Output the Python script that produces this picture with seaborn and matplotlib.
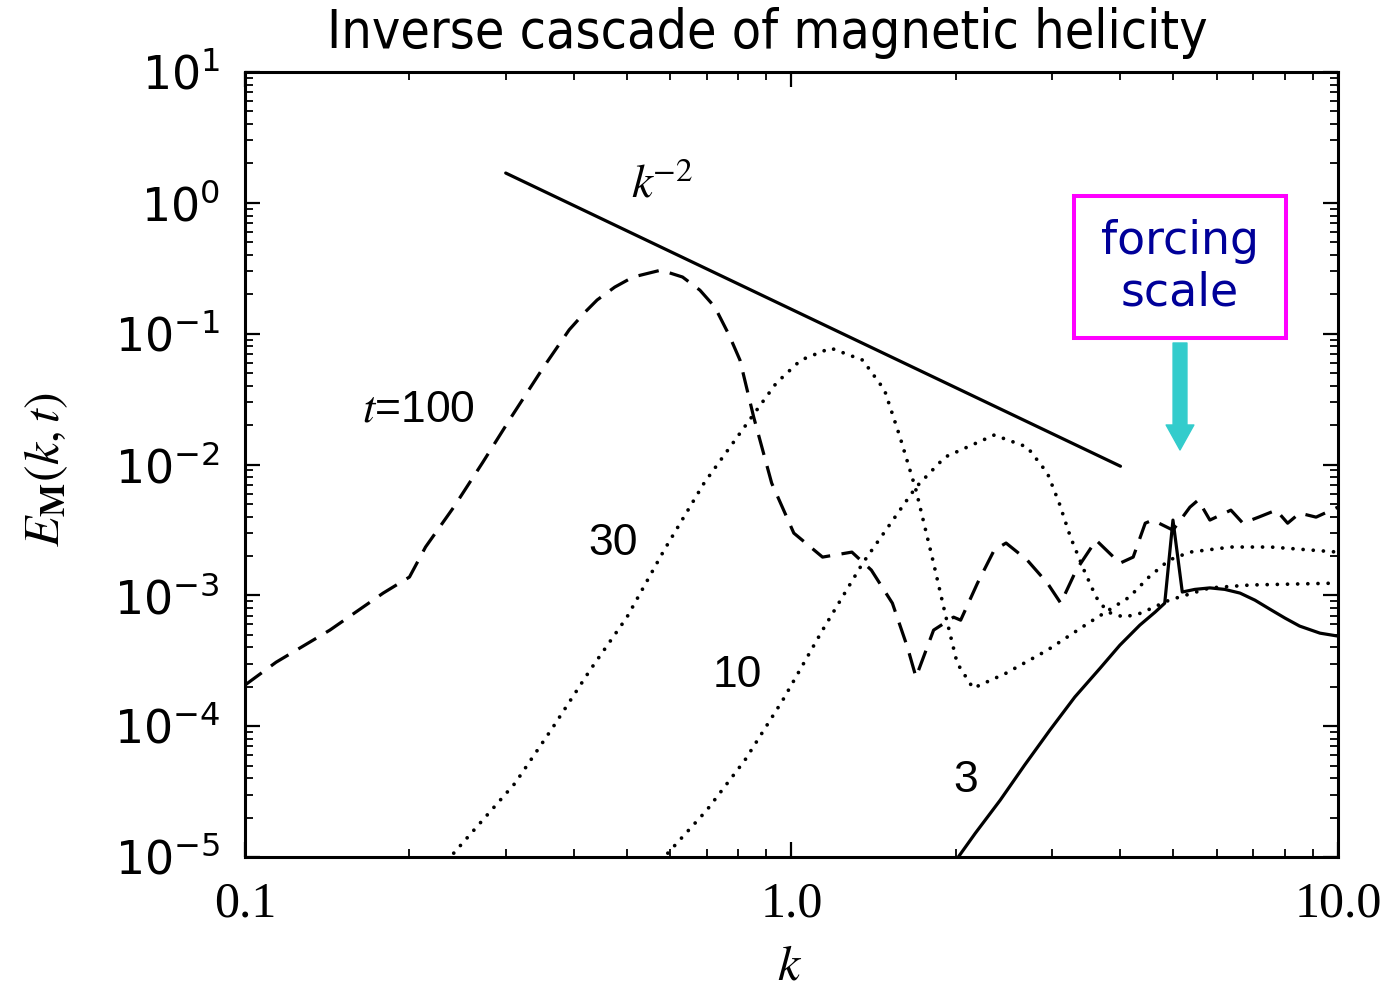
import numpy as np
import pandas as pd
import matplotlib
matplotlib.use("Agg")
import matplotlib.pyplot as plt
import seaborn as sns
from matplotlib.patches import Rectangle, FancyArrowPatch
from matplotlib.ticker import LogLocator, FixedLocator, FixedFormatter, NullFormatter

# ---------------- data ----------------
k_t100 = [0.100, 0.114, 0.143, 0.179, 0.200, 0.214, 0.241, 0.272, 0.307, 0.352,
          0.392, 0.419, 0.441, 0.475, 0.513, 0.577, 0.632, 0.680, 0.724, 0.769,
          0.805, 0.853, 0.920, 1.01,
          1.14, 1.29, 1.40, 1.53, 1.63, 1.69, 1.82, 1.98, 2.04, 2.19,
          2.35, 2.47, 2.70, 2.94, 3.11, 3.32, 3.61, 3.99, 4.22, 4.44,
          4.58, 4.99, 5.36, 5.55, 5.83, 6.37, 6.70, 7.16, 7.71, 8.09,
          8.51, 9.12, 10.0]
E_t100 = [2.06e-4, 3.08e-4, 5.42e-4, 1.04e-3, 1.38e-3, 2.34e-3, 4.72e-3, 1.03e-2, 2.30e-2, 5.56e-2,
          0.107, 0.146, 0.181, 0.227, 0.271, 0.306, 0.271, 0.215, 0.160, 0.0975,
          0.0628, 0.0230, 7.21e-3, 2.99e-3,
          1.96e-3, 2.14e-3, 1.56e-3, 8.71e-4, 4.02e-4, 2.37e-4, 5.42e-4, 6.81e-4, 6.46e-4, 1.24e-3,
          2.22e-3, 2.51e-3, 1.86e-3, 1.24e-3, 8.71e-4, 1.56e-3, 2.64e-3, 1.76e-3, 1.96e-3, 3.56e-3,
          3.76e-3, 3.15e-3, 4.72e-3, 5.35e-3, 3.76e-3, 4.48e-3, 3.56e-3, 3.96e-3, 4.48e-3, 3.56e-3,
          4.25e-3, 3.96e-3, 4.72e-3]

k_t30 = [0.241, 0.312, 0.366, 0.428, 0.500, 0.585, 0.692, 0.830, 0.938, 1.04,
         1.18, 1.35, 1.48, 1.58, 1.69, 1.82, 1.91, 2.01, 2.15, 2.47,
         2.94, 3.49, 4.15, 4.51, 4.91, 5.36, 6.37, 7.54, 10.0]
E_t30 = [1.07e-5, 3.66e-5, 9.8e-5, 2.68e-4, 6.81e-4, 2.22e-3, 7.21e-3, 0.0207, 0.0419, 0.0628,
         0.0776, 0.0628, 0.0371, 0.0162, 6.37e-3, 1.76e-3, 7.31e-4, 3.03e-4, 1.95e-4, 2.54e-4,
         3.81e-4, 6.12e-4, 9.68e-4, 1.38e-3, 1.86e-3, 2.14e-3, 2.34e-3, 2.34e-3, 2.14e-3]

k_t10 = [0.594, 0.700, 0.822, 0.964, 1.14, 1.35, 1.69, 1.91, 2.35, 2.70,
         2.94, 3.09, 3.24, 3.43, 3.61, 3.79, 4.06, 4.36, 4.91, 5.83,
         6.93, 10.0]
E_t10 = [1.07e-5, 2.28e-5, 5.50e-5, 1.58e-4, 5.42e-4, 1.76e-3, 6.71e-3, 0.0114, 0.0168, 0.0136,
         8.59e-3, 5.07e-3, 2.79e-3, 1.56e-3, 9.68e-4, 7.45e-4, 6.81e-4, 7.31e-4, 9.18e-4, 1.14e-3,
         1.20e-3, 1.24e-3]

k_t3 = [2.02, 2.17, 2.41, 2.67, 2.97, 3.30, 3.67, 3.99, 4.34, 4.63,
        4.82, 4.99, 5.19, 5.47, 5.83, 6.21, 6.62, 7.05, 7.51, 8.00,
        8.51, 9.27, 10.0]
E_t3 = [1.0e-5, 1.52e-5, 2.72e-5, 5.03e-5, 9.31e-5, 1.67e-4, 2.77e-4, 4.16e-4, 5.92e-4, 7.45e-4,
        8.71e-4, 3.76e-3, 1.06e-3, 1.11e-3, 1.14e-3, 1.11e-3, 1.04e-3, 9.18e-4, 7.83e-4, 6.70e-4,
        5.82e-4, 5.14e-4, 4.88e-4]

k_slope = [0.3, 4.0]          # k^-2 reference line end points
E_slope = [1.69, 0.0097]

x_ticks = [0.1, 1.0, 10.0]
x_ticklabels = ["0.1", "1.0", "10.0"]
y_ticks = [1e-5, 1e-4, 1e-3, 1e-2, 1e-1, 1e0, 1e1]
y_ticklabels = [r"$10^{-5}$", r"$10^{-4}$", r"$10^{-3}$", r"$10^{-2}$",
                r"$10^{-1}$", r"$10^{0}$", r"$10^{1}$"]

title = "Inverse cascade of magnetic helicity"

# ---------------- figure ----------------
sns.set_style("ticks")
plt.rcParams['font.family'] = ['DejaVu Sans']
plt.rcParams.update({'text.color': 'black', 'axes.labelcolor': 'black',
                     'xtick.color': 'black', 'ytick.color': 'black',
                     'axes.edgecolor': 'black'})

fig = plt.figure(figsize=(13.95, 9.92), dpi=100)
ax = fig.add_axes([0.1756, 0.1361, 0.7835, 0.7913])
ax.set_xscale('log')
ax.set_yscale('log')


def draw(k, E, **kw):
    df = pd.DataFrame({'k': k, 'E': E})
    sns.lineplot(data=df, x='k', y='E', ax=ax, sort=False, estimator=None,
                 color='black', legend=False, **kw)


draw(k_t100, E_t100, lw=2.3, linestyle=(0, (6.5, 3.6)))
draw(k_t30, E_t30, lw=2.7, linestyle=(0, (0.01, 2.7)), dash_capstyle='round')
draw(k_t10, E_t10, lw=2.7, linestyle=(0, (0.01, 2.7)), dash_capstyle='round')
draw(k_t3, E_t3, lw=2.3, linestyle='-')
draw(k_slope, E_slope, lw=2.3, linestyle='-')

ax.set_xlim(0.1, 10.0)
ax.set_ylim(1e-5, 1e1)

# ticks
ax.xaxis.set_major_locator(FixedLocator(x_ticks))
ax.xaxis.set_major_formatter(FixedFormatter(x_ticklabels))
ax.xaxis.set_minor_locator(LogLocator(base=10, subs=np.arange(2, 10)))
ax.xaxis.set_minor_formatter(NullFormatter())
ax.yaxis.set_major_locator(FixedLocator(y_ticks))
ax.yaxis.set_major_formatter(FixedFormatter(y_ticklabels))
ax.yaxis.set_minor_locator(LogLocator(base=10, subs=np.arange(2, 10), numticks=20))
ax.yaxis.set_minor_formatter(NullFormatter())

ax.tick_params(which='both', direction='in', top=True, right=True, color='black',
               labelcolor='black')
ax.tick_params(which='major', length=11, width=1.6)
ax.tick_params(which='minor', length=6, width=1.3)
ax.tick_params(axis='x', which='major', pad=17)
ax.tick_params(axis='y', which='major', pad=18)
for lab in ax.get_xticklabels():
    lab.set_fontfamily('Liberation Serif')
    lab.set_fontsize(36)
for lab in ax.get_yticklabels():
    lab.set_fontsize(33)
    lab.set_math_fontfamily('dejavusans')
for sp in ax.spines.values():
    sp.set_linewidth(2.2)
    sp.set_color('black')

ax.set_xlabel(r"$k$", fontsize=36, math_fontfamily='stix')
ax.xaxis.set_label_coords(0.4986, -0.108)
ax.set_ylabel(r"$E_{\mathbf{M}}(k,t)$", fontsize=36, math_fontfamily='stix')
ax.yaxis.set_label_coords(-0.16, 0.493)

ax.set_title(title, x=0.478, y=1.0306, pad=0, fontsize=38.5, fontstretch='condensed',
             family='DejaVu Sans', color='black')

# curve labels
lab_kw = dict(fontsize=32, family='Liberation Sans', ha='center', va='center',
              math_fontfamily='stix', color='black')
ax.text(0.2075, 0.026, r"$t$=100", **lab_kw)
ax.text(0.471, 2.5e-3, "30", **lab_kw)
ax.text(0.795, 2.45e-4, "10", **lab_kw)
ax.text(2.08, 3.86e-5, "3", **lab_kw)
ax.text(0.58, 1.37, r"$\mathbf{\mathit{k}}^{-2}$", fontsize=34, ha='center', va='center',
        math_fontfamily='stix', color='black')

# forcing-scale annotation
ax.add_patch(Rectangle((0.7585, 0.661), 0.1939, 0.181, transform=ax.transAxes,
                       facecolor='white', edgecolor='#FF00FF', lw=2.9, zorder=5))
ax.text(0.8555, 0.7516, "forcing\nscale", transform=ax.transAxes, ha='center',
        va='center', fontsize=33, color='#000099', family='DejaVu Sans',
        linespacing=1.2, zorder=6)
arrow = FancyArrowPatch((0.8555, 0.6548), (0.8555, 0.5185), transform=ax.transAxes,
                        arrowstyle='simple,head_length=18,head_width=20,tail_width=10',
                        mutation_scale=1, color='#33CCCC', shrinkA=0, shrinkB=0, zorder=6)
ax.add_patch(arrow)

fig.savefig("out.png", dpi=100)
